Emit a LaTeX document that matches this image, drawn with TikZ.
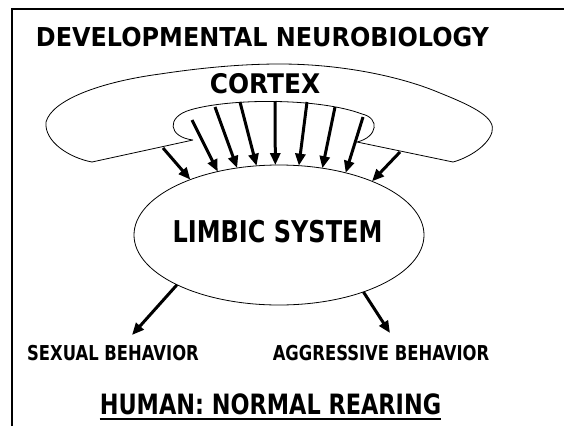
\documentclass[tikz,border=0pt]{standalone}
\usepackage{fontspec}
\newfontfamily\headfont{DejaVu Sans}[FakeStretch=0.92]
\newfontfamily\bodyfont{DejaVu Sans}[FakeStretch=0.80]
\usetikzlibrary{arrows.meta, shapes.geometric}

\begin{document}
\begin{tikzpicture}[
    x=1pt, y=-1pt,
    frame/.style={line width=2pt},
    outline/.style={line width=0.8pt},
    proj/.style={line width=3pt, -{Triangle[length=12pt,width=10pt]}},
    headtxt/.style={font=\headfont\bfseries\fontsize{#1}{#1}\selectfont,
                    inner sep=0pt, anchor=base},
    bodytxt/.style={font=\bodyfont\bfseries\fontsize{#1}{#1}\selectfont,
                    inner sep=0pt, anchor=base},
    region/.style={draw, ellipse, line width=0.8pt, minimum width=290pt,
                   minimum height=140pt, inner sep=0pt, outer sep=0pt},
  ]
  \useasboundingbox (0,0) rectangle (564,426);
  \draw[frame] (12,426) -- (12,9) -- (564,9);

  \node[headtxt=26] (title) at (262.5,46) {DEVELOPMENTAL NEUROBIOLOGY};
  \node[headtxt=27] (cortex) at (265,93) {CORTEX};

  % cortex outline, outer sheet with the inner lip
  \draw[outline] (193,140) -- (92,162)
    .. controls (70,158) and (44,142) .. (46,122)
    .. controls (52,100) and (100,82) .. (160,74)
    .. controls (200,68) and (240,64) .. (280,64)
    .. controls (340,64) and (400,76) .. (440,93)
    .. controls (475,107) and (496,118) .. (492,132)
    .. controls (488,146) and (468,158) .. (453,162)
    -- (357,142)
    .. controls (378,137) and (380,118) .. (362,114)
    .. controls (320,98) and (230,98) .. (190,110)
    .. controls (166,117) and (168,137) .. (193,140);

  \node[region] (limbic) at (279,235) {};
  \node[bodytxt=30] (limbictxt) at (277.5,242) {LIMBIC SYSTEM};

  % projections cortex -> limbic system
  \coordinate (c1) at (163,148);
  \coordinate (c2) at (192,120);
  \coordinate (c3) at (215,107);
  \coordinate (c4) at (240,102);
  \coordinate (c5) at (275,101);
  \coordinate (c6) at (307,102);
  \coordinate (c7) at (335,107);
  \coordinate (c8) at (363,117);
  \coordinate (c9) at (400,152);
  \draw[proj] (c1) -- (limbic.148);
  \draw[proj] (c2) -- (limbic.134.5);
  \draw[proj] (c3) -- (limbic.122.9);
  \draw[proj] (c4) -- (limbic.108.9);
  \draw[proj] (c5) -- (limbic.93.2);
  \draw[proj] (c6) -- (limbic.74.8);
  \draw[proj] (c7) -- (limbic.57.3);
  \draw[proj] (c8) -- (limbic.43.7);
  \draw[proj] (c9) -- (limbic.30.6);

  % outputs
  \node[bodytxt=20.5] (sexual) at (113,360) {SEXUAL BEHAVIOR};
  \node[bodytxt=20.5] (aggr) at (381,360) {AGGRESSIVE BEHAVIOR};
  \coordinate (sexh) at (132,335);
  \coordinate (aggh) at (390,333);
  \draw[proj] (limbic.-154) -- (sexh);
  \draw[proj] (limbic.-34) -- (aggh);

  \node[bodytxt=28] (human) at (270.5,414) {HUMAN: NORMAL REARING};
  \draw[line width=1.6pt] ([yshift=-5pt]human.base west)
    -- ([yshift=-5pt]human.base east);
\end{tikzpicture}
\end{document}
